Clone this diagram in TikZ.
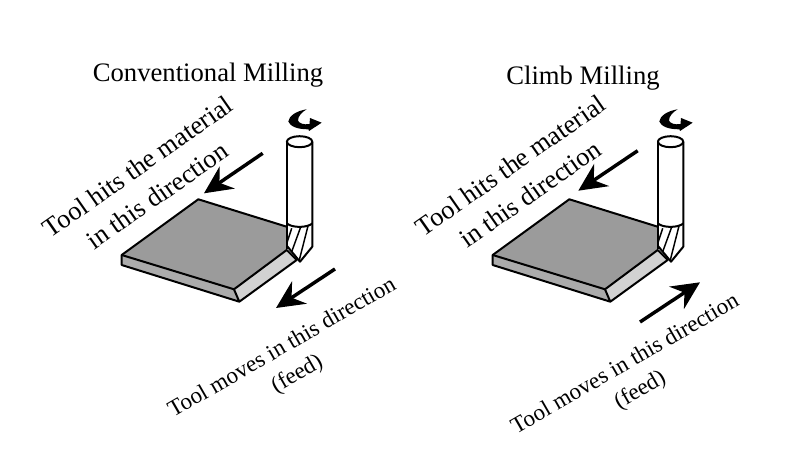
\documentclass[tikz,border=0pt]{standalone}
\usepackage{fontspec}
\setmainfont{Liberation Serif}
\usetikzlibrary{arrows.meta}
\definecolor{topgray}{HTML}{9B9B9B}
\definecolor{sidegray}{HTML}{ABABAB}
\definecolor{bevelgray}{HTML}{D2D2D2}
\tikzset{
  px/.style={x=0.75pt,y=-0.75pt},
  outline/.style={line width=1.5pt,line join=round,black},
  thinline/.style={line width=1.1pt,line join=round,black},
  bigarrow/.style={line width=2.6pt,black,-{Stealth[length=21pt,width=20pt,inset=7pt]}},
  title/.style={font=\fontsize{20}{22}\selectfont,inner sep=0pt},
  hits/.style={font=\fontsize{19.8}{26}\selectfont,align=center,inner sep=0pt,rotate=35},
  feed/.style={font=\fontsize{17.3}{22.5}\selectfont,align=center,inner sep=0pt,rotate=30}
}
\newcommand{\millpart}{%
  % plate
  \fill[topgray] (198.3,199.3) -- (121.7,255) -- (234,289.3) -- (286.7,250) -- (286.7,226.7) -- cycle;
  \fill[sidegray] (121.7,255) -- (121.7,265) -- (239.3,301.7) -- (234,289.3) -- cycle;
  \fill[bevelgray] (234,289.3) -- (239.3,301.7) -- (296.7,260) -- (286.7,250) -- cycle;
  \draw[outline] (286.7,226.7) -- (198.3,199.3) -- (121.7,255) -- (121.7,265) -- (239.3,301.7) -- (296.7,260) -- (286.7,250) -- (234,289.3) -- (239.3,301.7);
  \draw[outline] (121.7,255) -- (234,289.3);
  % tool
  \fill[white] (287,141.7) -- (287,246) -- (300,262) -- (312.3,247) -- (312.3,141.7) arc[start angle=0,end angle=180,x radius=12.8,y radius=5.5];
  \draw[outline] (287,141.7) -- (287,249);
  \draw[outline] (312.3,141.7) -- (312.3,246.7) -- (300,261.7) -- (287,246);
  \draw[outline] (299.6,141.7) ellipse[x radius=12.7,y radius=5.5];
  \draw[outline] (287,223.5) .. controls (292,228) and (307,228) .. (312.3,223.5);
  \draw[thinline] (291.7,228.3) -- (287.3,241.7);
  \draw[thinline] (300.7,227) -- (291.7,251.7);
  \draw[thinline] (308,226) -- (299.3,260);
  % rotation arrow
  \fill[black] (306.7,109.3) .. controls (296,111) and (289,116) .. (288.3,121.5)
    .. controls (290,126) and (297,129.5) .. (308.5,129.3)
    -- (309,131) -- (321.7,122.7) -- (310,118) -- (309.5,124)
    .. controls (304,125) and (299,123.5) .. (298,120.5)
    .. controls (298,116) and (302,112) .. (306.7,109.3) -- cycle;
}
\begin{document}
\begin{tikzpicture}[px]
\useasboundingbox (0,0) rectangle (800,470);
\fill[white] (0,0) rectangle (800,470);
\millpart
\begin{scope}[xshift=278.25pt]
\millpart
\end{scope}
\coordinate (a1s) at (262.7,153.3); \coordinate (a1e) at (204,193.3);
\coordinate (a2s) at (335,269); \coordinate (a2e) at (276,308);
\coordinate (a3s) at (637.7,150.7); \coordinate (a3e) at (578.3,190.7);
\coordinate (a4s) at (640,322); \coordinate (a4e) at (700,282.3);
\draw[bigarrow] (a1s) -- (a1e);
\draw[bigarrow] (a2s) -- (a2e);
\draw[bigarrow] (a3s) -- (a3e);
\draw[bigarrow] (a4s) -- (a4e);
\node[title] (t1) at (208,75) {Conventional Milling};
\node[title] (t2) at (583,78) {Climb Milling};
\node[hits] (h1) at (147.5,181) {Tool hits the material\\in this direction};
\node[hits] (h2) at (520.5,179.5) {Tool hits the material\\in this direction};
\node[feed] (f1) at (290,361.5) {Tool moves in this direction\\(feed)};
\node[feed] (f2) at (633,378) {Tool moves in this direction\\(feed)};
\end{tikzpicture}
\end{document}
